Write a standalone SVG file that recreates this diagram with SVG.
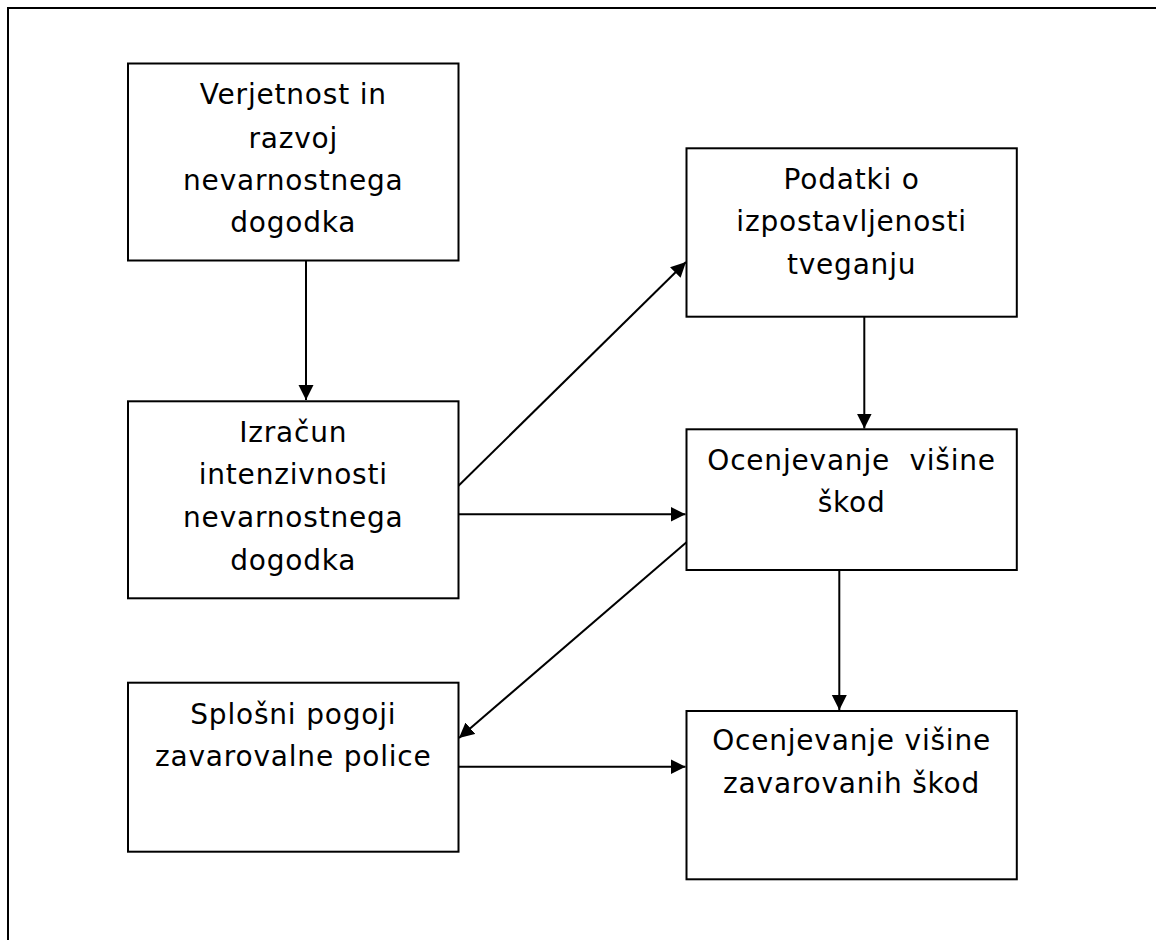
<svg xmlns="http://www.w3.org/2000/svg" width="1156" height="940" viewBox="0 0 1156 940">
<style>
.box{fill:#fff;stroke:#000;stroke-width:2}
.lbl{font-family:"DejaVu Sans",Verdana,sans-serif;font-size:28px;letter-spacing:0.8px;fill:#000;text-anchor:middle}
.conn{stroke:#000;stroke-width:2;fill:none;marker-end:url(#ah)}
</style>
<defs>
<marker id="ah" markerUnits="userSpaceOnUse" markerWidth="16" markerHeight="16" refX="15" refY="7.5" orient="auto">
<path d="M0,0 L15,7.5 L0,15 z" fill="#000"/>
</marker>
</defs>
<rect width="1156" height="940" fill="#fff"/>
<path d="M8,940 V8 H1156" fill="none" stroke="#000" stroke-width="2"/>
<g id="connectors">
<line class="conn" x1="306" y1="261" x2="306" y2="400"/>
<line class="conn" x1="458.5" y1="485.7" x2="686" y2="262"/>
<line class="conn" x1="458.5" y1="514.3" x2="685.5" y2="514.3"/>
<line class="conn" x1="864.3" y1="317" x2="864.3" y2="428.5"/>
<line class="conn" x1="686.5" y1="542.3" x2="459" y2="738"/>
<line class="conn" x1="839.3" y1="570.5" x2="839.3" y2="710"/>
<line class="conn" x1="458.5" y1="766.7" x2="685.5" y2="766.7"/>
</g>
<g id="n1">
<rect class="box" x="128" y="63.5" width="330.5" height="197"/>
<text class="lbl" x="293.3" y="103.5">Verjetnost in</text>
<text class="lbl" x="293.3" y="147.5">razvoj</text>
<text class="lbl" x="293.3" y="190">nevarnostnega</text>
<text class="lbl" x="293.3" y="232">dogodka</text>
</g>
<g id="n2">
<rect class="box" x="128" y="401.3" width="330.5" height="197"/>
<text class="lbl" x="293.3" y="442">Izračun</text>
<text class="lbl" x="293.3" y="484">intenzivnosti</text>
<text class="lbl" x="293.3" y="527">nevarnostnega</text>
<text class="lbl" x="293.3" y="570">dogodka</text>
</g>
<g id="n3">
<rect class="box" x="686.5" y="148.3" width="330.3" height="168.4"/>
<text class="lbl" x="851.6" y="188.5">Podatki o</text>
<text class="lbl" x="851.6" y="230.5">izpostavljenosti</text>
<text class="lbl" x="851.6" y="273.5">tveganju</text>
</g>
<g id="n4">
<rect class="box" x="686.5" y="429.3" width="330.3" height="140.7"/>
<text class="lbl" x="851.6" y="470" xml:space="preserve">Ocenjevanje  višine</text>
<text class="lbl" x="851.6" y="512">škod</text>
</g>
<g id="n5">
<rect class="box" x="128" y="682.7" width="330.5" height="169"/>
<text class="lbl" x="293.3" y="723.5">Splošni pogoji</text>
<text class="lbl" x="293.3" y="766">zavarovalne police</text>
</g>
<g id="n6">
<rect class="box" x="686.5" y="711" width="330.3" height="168.3"/>
<text class="lbl" x="851.6" y="750">Ocenjevanje višine</text>
<text class="lbl" x="851.6" y="793.3">zavarovanih škod</text>
</g>
</svg>
